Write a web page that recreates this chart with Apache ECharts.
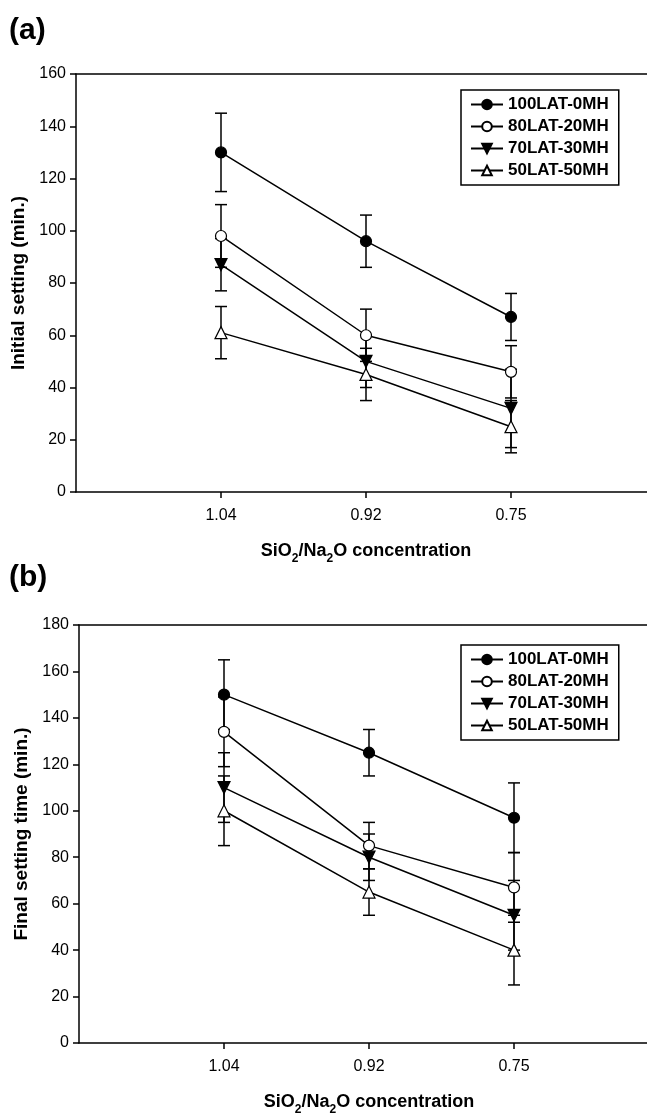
<!DOCTYPE html>
<html>
<head>
<meta charset="utf-8">
<script src="https://cdn.jsdelivr.net/npm/echarts@6/dist/echarts.min.js"></script>
<style>
  html, body { margin: 0; padding: 0; background: #fff; }
  #chart { width: 647px; height: 1113px; }
</style>
</head>
<body>
<div id="chart"></div>
<script>
// x categories (SiO2/Na2O ratio), left to right
const CATEGORIES = ['1.04', '0.92', '0.75']
const SERIES_NAMES = ['100LAT-0MH', '80LAT-20MH', '70LAT-30MH', '50LAT-50MH']

// (a) initial setting, min.
const INIT_100 = [130, 96, 67]
const INIT_80 = [98, 60, 46]
const INIT_70 = [87, 50, 32]
const INIT_50 = [61, 45, 25]
const INIT_100_ERR = [15, 10, 9]
const INIT_80_ERR = [12, 10, 10]
const INIT_70_ERR = [10, 10, 15]
const INIT_50_ERR = [10, 10, 10]
const INIT_TICKS = [0, 20, 40, 60, 80, 100, 120, 140, 160]

// (b) final setting time, min.
const FINAL_100 = [150, 125, 97]
const FINAL_80 = [134, 85, 67]
const FINAL_70 = [110, 80, 55]
const FINAL_50 = [100, 65, 40]
const FINAL_100_ERR = [15, 10, 15]
const FINAL_80_ERR = [15, 10, 15]
const FINAL_70_ERR = [15, 10, 15]
const FINAL_50_ERR = [15, 10, 15]
const FINAL_TICKS = [0, 20, 40, 60, 80, 100, 120, 140, 160, 180]

const FONT = 'Liberation Sans, Arial, sans-serif'
const SYMBOLS = ['circle', 'circle', 'triangle', 'triangle']
const FILLS = ['#000', '#fff', '#000', '#fff']
const ROTATE = [0, 0, 180, 0]
const X_MIN = 0
const X_MAX = 4

const chart = echarts.init(document.getElementById('chart'), null, { renderer: 'canvas' })

function errorBars(values, errs, idx) {
  return {
    type: 'custom',
    xAxisIndex: idx * 2,
    yAxisIndex: idx,
    z: 1,
    silent: true,
    data: values.map((v, i) => [i + 1, v - errs[i], v + errs[i]]),
    renderItem: (params, api) => {
      const x = api.value(0)
      const lo = api.coord([x, api.value(1)])
      const hi = api.coord([x, api.value(2)])
      const w = 6
      const style = { stroke: '#000', lineWidth: 1.5 }
      return {
        type: 'group',
        children: [
          { type: 'line', shape: { x1: hi[0], y1: hi[1], x2: lo[0], y2: lo[1] }, style },
          { type: 'line', shape: { x1: hi[0] - w, y1: hi[1], x2: hi[0] + w, y2: hi[1] }, style },
          { type: 'line', shape: { x1: lo[0] - w, y1: lo[1], x2: lo[0] + w, y2: lo[1] }, style },
        ],
      }
    },
  }
}

function lineSeries(name, values, k, idx) {
  return {
    type: 'line',
    name,
    xAxisIndex: idx * 2,
    yAxisIndex: idx,
    z: 3,
    data: values.map((v, i) => [i + 1, v]),
    symbol: SYMBOLS[k],
    symbolRotate: ROTATE[k],
    symbolSize: SYMBOLS[k] === 'circle' ? 11 : 12,
    lineStyle: { color: '#000', width: 1.5 },
    itemStyle: { color: FILLS[k], borderColor: '#000', borderWidth: 1.2 },
    emphasis: { disabled: true },
    animation: false,
  }
}

function xAxis(idx) {
  return {
    type: 'value',
    gridIndex: idx,
    min: X_MIN,
    max: X_MAX,
    splitLine: { show: false },
    axisLine: { lineStyle: { color: '#000', width: 1.5 } },
    axisTick: { customValues: [1, 2, 3], length: 6, lineStyle: { color: '#000', width: 1.5 } },
    axisLabel: {
      customValues: [1, 2, 3],
      formatter: (v) => CATEGORIES[v - 1] || '',
      color: '#000', fontSize: 16, fontFamily: FONT, margin: 16,
    },
    name: '{n|SiO}{s|2}{n|/Na}{s|2}{n|O concentration}',
    nameLocation: 'middle',
    nameGap: 45,
    nameTextStyle: {
      rich: {
        n: { fontSize: 18, fontWeight: 'bold', fontFamily: FONT, color: '#000', lineHeight: 28, verticalAlign: 'middle' },
        s: { fontSize: 12, fontWeight: 'bold', fontFamily: FONT, color: '#000', lineHeight: 28, verticalAlign: 'bottom' },
      },
    },
  }
}

// top frame line only
function topAxis(idx) {
  return {
    type: 'value',
    gridIndex: idx,
    position: 'top',
    min: X_MIN,
    max: X_MAX,
    splitLine: { show: false },
    axisLine: { show: true, lineStyle: { color: '#000', width: 1.5 } },
    axisTick: { show: false },
    axisLabel: { show: false },
  }
}

function yAxis(idx, ticks, name) {
  return {
    type: 'value',
    gridIndex: idx,
    min: ticks[0],
    max: ticks[ticks.length - 1],
    interval: ticks[1] - ticks[0],
    splitLine: { show: false },
    axisLine: { show: true, lineStyle: { color: '#000', width: 1.5 } },
    axisTick: { show: true, length: 6, lineStyle: { color: '#000', width: 1.5 } },
    axisLabel: { color: '#000', fontSize: 16, fontFamily: FONT, margin: 10 },
    name,
    nameLocation: 'middle',
    nameGap: 47,
    nameTextStyle: { fontSize: 19, fontWeight: 'bold', fontFamily: FONT, color: '#000' },
  }
}

function legend(top) {
  return {
    orient: 'vertical',
    left: 461,
    top,
    data: SERIES_NAMES,
    itemWidth: 32,
    itemHeight: 12,
    itemGap: 5,
    padding: [6, 10, 6, 9],
    borderColor: '#000',
    borderWidth: 1.5,
    borderRadius: 0,
    selectedMode: false,
    textStyle: { fontSize: 17, fontWeight: 'bold', fontFamily: FONT, color: '#000' },
  }
}

const INIT_VALUES = [INIT_100, INIT_80, INIT_70, INIT_50]
const INIT_ERRS = [INIT_100_ERR, INIT_80_ERR, INIT_70_ERR, INIT_50_ERR]
const FINAL_VALUES = [FINAL_100, FINAL_80, FINAL_70, FINAL_50]
const FINAL_ERRS = [FINAL_100_ERR, FINAL_80_ERR, FINAL_70_ERR, FINAL_50_ERR]

const series = []
INIT_VALUES.forEach((vals, k) => series.push(errorBars(vals, INIT_ERRS[k], 0)))
FINAL_VALUES.forEach((vals, k) => series.push(errorBars(vals, FINAL_ERRS[k], 1)))
INIT_VALUES.forEach((vals, k) => series.push(lineSeries(SERIES_NAMES[k], vals, k, 0)))
FINAL_VALUES.forEach((vals, k) => series.push(lineSeries(SERIES_NAMES[k], vals, k, 1)))

const option = {
  animation: false,
  backgroundColor: '#fff',
  title: [
    { text: '(a)', left: 9, top: 16, padding: 0, textStyle: { fontSize: 30, fontWeight: 'bold', fontFamily: FONT, color: '#000' } },
    { text: '(b)', left: 9, top: 563, padding: 0, textStyle: { fontSize: 30, fontWeight: 'bold', fontFamily: FONT, color: '#000' } },
  ],
  grid: [
    { left: 76, top: 74, width: 580, height: 418, outerBoundsMode: 'none' },
    { left: 79, top: 625, width: 580, height: 418, outerBoundsMode: 'none' },
  ],
  xAxis: [xAxis(0), topAxis(0), xAxis(1), topAxis(1)],
  yAxis: [
    yAxis(0, INIT_TICKS, 'Initial setting (min.)'),
    yAxis(1, FINAL_TICKS, 'Final setting time (min.)'),
  ],
  legend: [legend(90), legend(645)],
  series,
}

chart.setOption(option)
window.addEventListener('resize', () => chart.resize())
</script>
</body>
</html>
